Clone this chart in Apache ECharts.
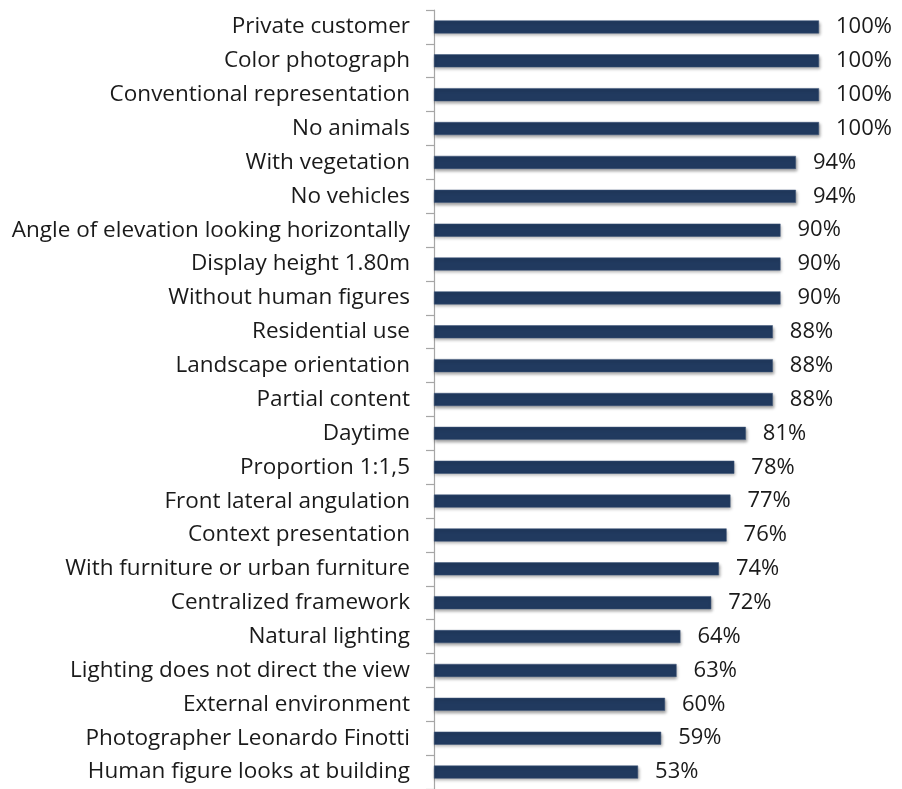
<!DOCTYPE html>
<html>
<head>
<meta charset="utf-8">
<script src="https://cdn.jsdelivr.net/npm/echarts@6/dist/echarts.min.js"></script>
<style>
  html, body { margin: 0; padding: 0; background: #ffffff; }
  #chart { width: 902px; height: 789px; }
</style>
</head>
<body>
<div id="chart"></div>
<script>
// Criteria, listed top to bottom
const categories = [
  'Private customer',
  'Color photograph',
  'Conventional representation',
  'No animals',
  'With vegetation',
  'No vehicles',
  'Angle of elevation looking horizontally',
  'Display height 1.80m',
  'Without human figures',
  'Residential use',
  'Landscape orientation',
  'Partial content',
  'Daytime',
  'Proportion 1:1,5',
  'Front lateral angulation',
  'Context presentation',
  'With furniture or urban furniture',
  'Centralized framework',
  'Natural lighting',
  'Lighting does not direct the view',
  'External environment',
  'Photographer Leonardo Finotti',
  'Human figure looks at building'
];

// Share of images meeting each criterion (%)
const values = [100, 100, 100, 100, 94, 94, 90, 90, 90, 88, 88, 88, 81, 78, 77, 76, 74, 72, 64, 63, 60, 59, 53];

const chart = echarts.init(document.getElementById('chart'), null, { renderer: 'canvas' });

chart.setOption({
  animation: false,
  backgroundColor: '#ffffff',
  grid: { left: 434, top: 10, width: 385, height: 780, containLabel: false },
  xAxis: {
    type: 'value',
    min: 0,
    max: 100,
    show: false
  },
  yAxis: {
    type: 'category',
    data: categories,
    inverse: true,
    axisLine: { show: true, lineStyle: { color: '#a6a6a6', width: 1.2 } },
    axisTick: { show: true, length: 8, lineStyle: { color: '#a6a6a6', width: 1.2 } },
    axisLabel: {
      margin: 24,
      color: '#1a1a1a',
      fontFamily: 'Open Sans',
      fontSize: 22.5,
      padding: [2, 0, 0, 0]
    },
    splitLine: { show: false }
  },
  series: [{
    type: 'bar',
    data: values,
    barWidth: 13,
    itemStyle: {
      color: '#213a5f',
      borderColor: '#3c5578',
      borderWidth: 0.5,
      shadowColor: 'rgba(0,0,0,0.35)',
      shadowBlur: 3,
      shadowOffsetX: 1,
      shadowOffsetY: 2
    },
    label: {
      show: true,
      position: 'right',
      distance: 17,
      formatter: '{c}%',
      color: '#1a1a1a',
      fontFamily: 'Open Sans',
      fontSize: 22,
      padding: [3, 0, 0, 0]
    }
  }]
});
</script>
</body>
</html>
